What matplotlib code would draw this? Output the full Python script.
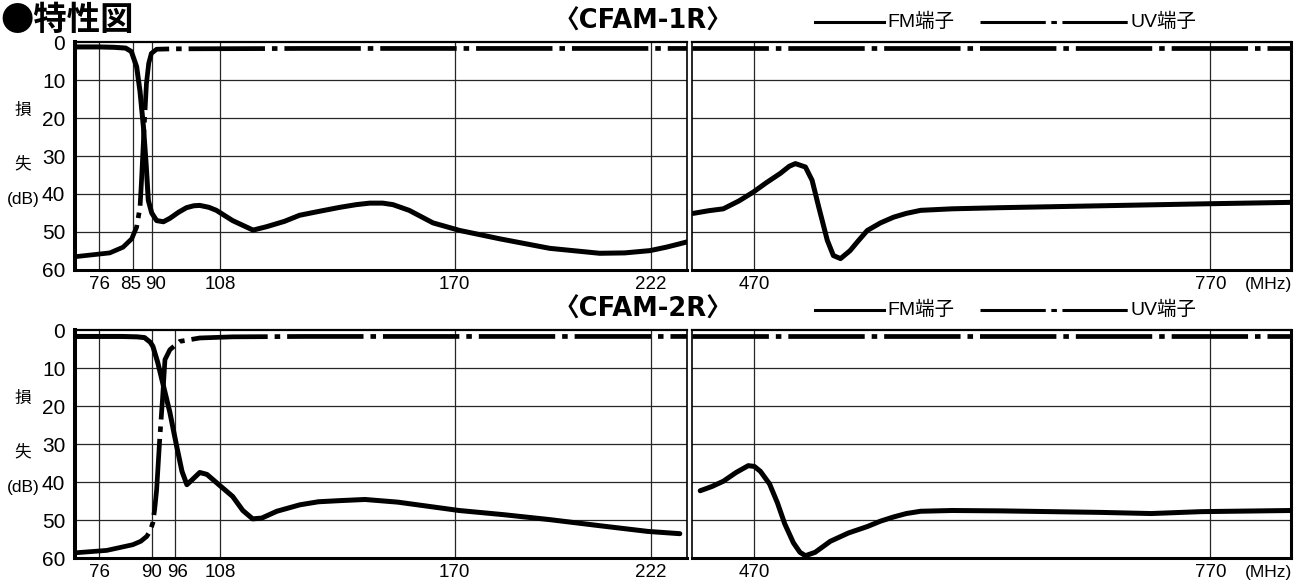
import numpy as np
import matplotlib
matplotlib.use("Agg")
import matplotlib.pyplot as plt
from matplotlib.lines import Line2D
from matplotlib.transforms import ScaledTranslation

plt.rcParams['font.family'] = ['Liberation Sans', 'Noto Sans CJK JP', 'DejaVu Sans']
plt.rcParams['lines.scale_dashes'] = False

# ---- data (MHz, dB) ----
# CFAM-1R, VHF band
fm1_lo_f = [69.6, 76, 80, 83, 84.5, 85.9, 86.8, 87.7, 88.4, 89.0, 89.9, 91.2, 93.0, 94.7, 97, 99.1,
            101, 102.6, 105, 107, 111.3, 116.7, 120.3, 125, 129, 134, 139.7, 144, 147.6, 151, 153.7,
            158, 164.3, 171.4, 182, 195.2, 208.4, 215, 221.7, 226, 229.6, 231.5]
fm1_lo_db = [1.3, 1.3, 1.4, 1.6, 2.5, 6.5, 13, 22.3, 32, 41.7, 45, 47, 47.3, 46.4, 44.8, 43.6,
             43.1, 43, 43.5, 44.3, 47, 49.5, 48.6, 47.2, 45.6, 44.6, 43.5, 42.8, 42.4, 42.4, 42.8,
             44.3, 47.6, 49.6, 51.8, 54.3, 55.6, 55.5, 54.9, 54, 53.1, 52.6]
uv1_lo_f = [69.6, 78.8, 82.3, 84.6, 85.9, 86.8, 87.2, 87.8, 88.5, 89.1, 89.8, 91.2, 95.5, 130, 180, 231.5]
uv1_lo_db = [56.5, 55.5, 54, 51.8, 48.7, 43.5, 36.4, 24.1, 10.9, 5.6, 3.0, 1.9, 1.8, 1.7, 1.7, 1.7]
# CFAM-1R, UHF band
fm1_hi_f = [429.8, 440, 449.6, 460, 469.3, 478, 487, 493, 497, 503.6, 508, 512.4, 518, 522, 526.7,
            533, 538, 544.3, 553, 561.6, 570, 579.4, 600, 632, 698, 764, 823]
fm1_hi_db = [45.1, 44.4, 43.9, 41.8, 39.5, 37.0, 34.6, 32.7, 32.0, 32.9, 36.4, 43.5, 52.2, 56.2, 57.0,
             54.9, 52.5, 49.6, 47.6, 46.1, 45.1, 44.3, 43.9, 43.6, 43.1, 42.6, 42.2]
uv1_hi_f = [429, 823]
uv1_hi_db = [1.5, 1.5]

# CFAM-2R, VHF band
fm2_lo_f = [69.6, 76, 82, 86, 88.0, 88.6, 89.5, 90.2, 91.5, 92.8, 94.7, 96.5, 97.9, 99.2, 100.5, 102.6,
            104.5, 108, 111.3, 114, 116.6, 119, 123, 129.1, 134, 139.7, 146.3, 155, 171.2, 183, 195.2,
            208.4, 221.1, 229.6]
fm2_lo_db = [1.7, 1.7, 1.7, 1.8, 2.0, 2.5, 3.2, 4.3, 8.6, 13.9, 21.7, 30.6, 37.2, 40.7, 39.5, 37.5,
             38, 41, 43.8, 47.5, 49.7, 49.5, 47.7, 46, 45.2, 44.9, 44.6, 45.3, 47.5, 48.6, 49.9,
             51.5, 53, 53.6]
uv2_lo_f = [70.1, 78, 84.9, 87, 88.6, 89.5, 90.2, 90.7, 91.2, 92.0, 92.8, 93.4, 94.7, 97.3, 102.6,
            111.3, 130, 180, 231.5]
uv2_lo_db = [58.6, 58, 56.5, 55.6, 54.3, 52.8, 50.7, 47, 42, 28.9, 17.5, 7.8, 5.2, 3.0, 2.1,
             1.8, 1.7, 1.7, 1.7]
# CFAM-2R, UHF band
fm2_hi_f = [434.4, 442, 449.6, 458, 466, 470, 474, 480, 485.2, 490, 495.7, 500, 503.6, 510, 520, 532,
            544.5, 553, 561.6, 570, 579.4, 600, 632, 698, 731, 764, 823]
fm2_hi_db = [42.3, 41.2, 39.8, 37.5, 35.7, 35.9, 37.2, 40.5, 45.5, 51, 56, 58.5, 59.4, 58.5, 55.6, 53.4,
             51.7, 50.3, 49.2, 48.3, 47.7, 47.5, 47.6, 48, 48.3, 47.8, 47.5]
uv2_hi_f = [429, 823]
uv2_hi_db = [1.5, 1.5]

ticks1_lo = [76, 85, 90, 108, 170, 222]
ticks2_lo = [76, 90, 96, 108, 170, 222]
ticks_hi = [470, 770]
yticks = [0, 10, 20, 30, 40, 50, 60]

W, H = 1295, 580
fig = plt.figure(figsize=(W / 100, H / 100), dpi=100)


def frac(x0, y0, x1, y1):
    return [x0 / W, 1 - y1 / H, (x1 - x0) / W, (y1 - y0) / H]


UV_DASH = (55, 5, 4, 5)
# small nudges (px) for crowded tick labels
nudge1 = {'85': -3, '90': 3}
nudge2 = {'90': -1, '96': 3}


def setup(ax, ticks, xlim, left_side, nudge=None):
    ax.set_xlim(*xlim)
    ax.set_ylim(60, 0)
    ax.set_xticks(ticks)
    ax.set_xticklabels([str(t) for t in ticks], fontsize=13.5)
    ax.set_yticks(yticks)
    if left_side:
        ax.set_yticklabels([str(t) for t in yticks], fontsize=15)
    else:
        ax.set_yticklabels([])
    ax.tick_params(axis='x', length=0, pad=4)
    ax.tick_params(axis='y', length=0, pad=7)
    if nudge:
        for lab in ax.get_xticklabels():
            dx = nudge.get(lab.get_text(), 0)
            if dx:
                lab.set_transform(lab.get_transform() +
                                  ScaledTranslation(dx / 100, 0, fig.dpi_scale_trans))
    for t in ticks:
        ax.axvline(t, color='0.15', lw=0.9, zorder=1)
    for y in yticks[1:-1]:
        ax.axhline(y, color='0.15', lw=0.9, zorder=1)
    ax.spines['top'].set_linewidth(1.6)
    ax.spines['bottom'].set_linewidth(2.2)
    if left_side:
        ax.spines['left'].set_linewidth(2.9)
        ax.spines['right'].set_linewidth(1.2)
    else:
        ax.spines['left'].set_linewidth(1.2)
        ax.spines['right'].set_linewidth(2.2)


def draw(ax, fm_f, fm_db, uv_f, uv_db):
    ax.plot(fm_f, fm_db, color='black', lw=3.6, solid_joinstyle='round',
            solid_capstyle='round', zorder=3)
    ax.plot(uv_f, uv_db, color='black', lw=3.4, dashes=UV_DASH, zorder=3)


panels = [
    (42, ticks1_lo, nudge1, fm1_lo_f, fm1_lo_db, uv1_lo_f, uv1_lo_db,
     fm1_hi_f, fm1_hi_db, uv1_hi_f, uv1_hi_db, '〈CFAM-1R〉'),
    (330, ticks2_lo, nudge2, fm2_lo_f, fm2_lo_db, uv2_lo_f, uv2_lo_db,
     fm2_hi_f, fm2_hi_db, uv2_hi_f, uv2_hi_db, '〈CFAM-2R〉'),
]

for (y0, tl, nd, flf, fld, ulf, uld, fhf, fhd, uhf, uhd, name) in panels:
    axl = fig.add_axes(frac(75, y0, 687, y0 + 228))
    axr = fig.add_axes(frac(692, y0, 1291, y0 + 228))
    setup(axl, tl, (69.6, 231.5), True, nd)
    setup(axr, ticks_hi, (429, 823), False)
    draw(axl, flf, fld, ulf, uld)
    draw(axr, fhf, fhd, uhf, uhd)

    tr = axl.get_yaxis_transform()
    axl.text(-0.085, 18, '損', transform=tr, ha='center', va='center', fontsize=12,
             family=['Noto Sans CJK JP'])
    axl.text(-0.085, 32, '失', transform=tr, ha='center', va='center', fontsize=12,
             family=['Noto Sans CJK JP'])
    axl.text(-0.085, 41.5, '(dB)', transform=tr, ha='center', va='center', fontsize=12.5)
    axr.text(0.963, -0.03, '(MHz)', transform=axr.transAxes, ha='center', va='top', fontsize=12.5)

    # panel title and legend
    ty = y0 - 20
    fig.text(643 / W, 1 - ty / H, name, ha='center', va='center', fontsize=18.5,
             fontweight='bold', family=['DejaVu Sans', 'Noto Sans CJK JP'])
    fig.add_artist(Line2D([815 / W, 884 / W], [1 - ty / H, 1 - ty / H], color='black', lw=2.2,
                          transform=fig.transFigure))
    fig.text(887 / W, 1 - ty / H, 'FM端子', ha='left', va='center', fontsize=14)
    fig.add_artist(Line2D([980 / W, 1128 / W], [1 - ty / H, 1 - ty / H], color='black', lw=2.2,
                          dashes=(47, 4, 4, 4), transform=fig.transFigure))
    fig.text(1130 / W, 1 - ty / H, 'UV端子', ha='left', va='center', fontsize=14)

fig.text(0 / W, 1 - 30 / H, '●特性図', ha='left', va='baseline', fontsize=24, fontweight='bold',
         family=['Noto Sans CJK JP', 'DejaVu Sans'])

fig.savefig('out.png', dpi=100)
